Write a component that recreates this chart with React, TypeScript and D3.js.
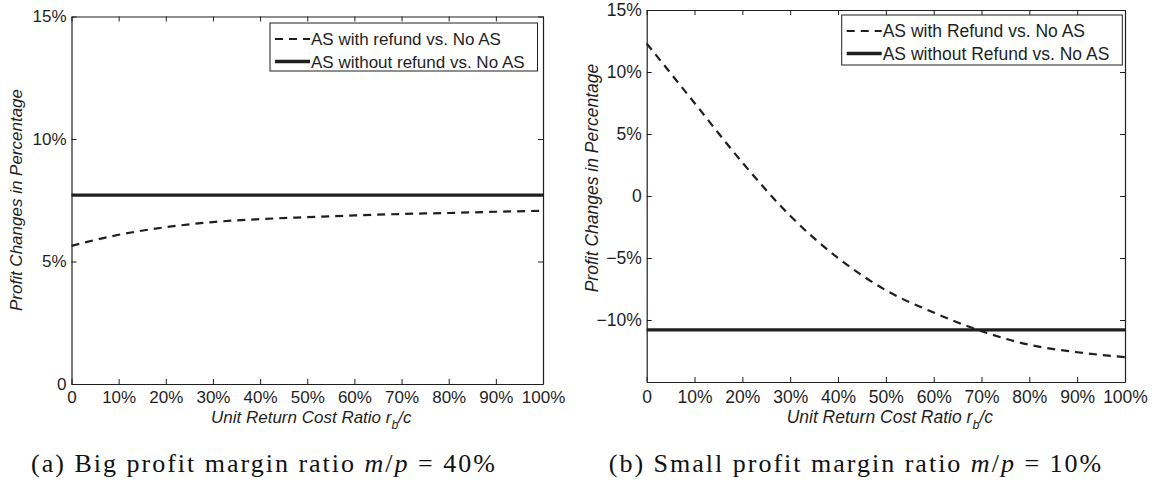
import React, { useRef, useEffect } from "react";
import * as d3 from "d3";

// unit return cost ratio r_b / c on the x axis
const returnCostRatios = [0, 0.1, 0.2, 0.3, 0.4, 0.5, 0.6, 0.7, 0.8, 0.9, 1.0];
const xTickLabels = ["0", "10%", "20%", "30%", "40%", "50%", "60%", "70%", "80%", "90%", "100%"];

// (a) big profit margin, m/p = 40%  (values in %)
const bigWithRefund = [5.64, 6.09, 6.4, 6.61, 6.73, 6.81, 6.88, 6.94, 6.98, 7.03, 7.07];
const bigWithoutRefund = [7.71, 7.71, 7.71, 7.71, 7.71, 7.71, 7.71, 7.71, 7.71, 7.71, 7.71];
const bigYTicks = [0, 5, 10, 15];
const bigYTickLabels = ["0", "5%", "10%", "15%"];
const bigLegend = ["AS with refund vs. No AS", "AS without refund vs. No AS"];

// (b) small profit margin, m/p = 10%
const smallWithRefund = [12.3, 7.5, 2.7, -1.6, -5.0, -7.6, -9.4, -10.9, -12.0, -12.6, -13.0];
const smallWithoutRefund = [-10.8, -10.8, -10.8, -10.8, -10.8, -10.8, -10.8, -10.8, -10.8, -10.8, -10.8];
const smallYTicks = [-10, -5, 0, 5, 10, 15];
const smallYTickLabels = ["\u221210%", "\u22125%", "0", "5%", "10%", "15%"];
const smallLegend = ["AS with Refund vs. No AS", "AS without Refund vs. No AS"];

const ink = "#1f1f1f";
const sans = "'Liberation Sans', Arial, sans-serif";
const serif = "'Liberation Serif', 'Times New Roman', serif";
const dash = "8,6";

const panels = [
  {
    left: 71.5, right: 543, top: 16.5, bottom: 384,
    yDomain: [0, 15], yTicks: bigYTicks, yTickLabels: bigYTickLabels,
    withRefund: bigWithRefund, withoutRefund: bigWithoutRefund,
    legendLabels: bigLegend, legendBox: { x: 270, y: 23, w: 267.5, h: 48 },
    fontSize: 17, xPad: 7, yTitle: { x: 16, y: 200 }, xTitleY: 423,
    caption: { x: 264, tag: "(a) Big profit margin ratio ", value: " = 40%" },
  },
  {
    left: 646.7, right: 1125, top: 10, bottom: 382,
    yDomain: [-15, 15], yTicks: smallYTicks, yTickLabels: smallYTickLabels,
    withRefund: smallWithRefund, withoutRefund: smallWithoutRefund,
    legendLabels: smallLegend, legendBox: { x: 841.7, y: 15, w: 280.6, h: 50 },
    fontSize: 17.5, xPad: 8.5, yTitle: { x: 592, y: 178 }, xTitleY: 423,
    caption: { x: 856, tag: "(b) Small profit margin ratio ", value: " = 10%" },
  },
];

function drawPanel(svg, p) {
  const g = svg.append("g");
  const x = d3.scaleLinear().domain([0, 1]).range([p.left, p.right]);
  const y = d3.scaleLinear().domain(p.yDomain).range([p.bottom, p.top]);

  const styleAxis = (sel) => {
    sel.selectAll("path").attr("stroke", ink).attr("stroke-width", 1.2);
    sel.selectAll("line").attr("stroke", ink).attr("stroke-width", 1);
    sel.selectAll("text").attr("fill", ink).style("font-family", sans).style("font-size", `${p.fontSize}px`);
  };

  g.append("g")
    .attr("transform", `translate(0,${p.bottom})`)
    .call(
      d3.axisBottom(x).tickValues(returnCostRatios)
        .tickFormat((d, i) => xTickLabels[i]).tickSizeInner(-5).tickSizeOuter(0).tickPadding(p.xPad)
    )
    .call(styleAxis);

  g.append("g")
    .attr("transform", `translate(0,${p.top})`)
    .call(d3.axisTop(x).tickValues(returnCostRatios).tickFormat(() => "").tickSizeInner(-5).tickSizeOuter(0))
    .call(styleAxis);

  g.append("g")
    .attr("transform", `translate(${p.left},0)`)
    .call(
      d3.axisLeft(y).tickValues(p.yTicks)
        .tickFormat((d, i) => p.yTickLabels[i]).tickSizeInner(-5).tickSizeOuter(0).tickPadding(5)
    )
    .call(styleAxis);

  g.append("g")
    .attr("transform", `translate(${p.right},0)`)
    .call(d3.axisRight(y).tickValues(p.yTicks).tickFormat(() => "").tickSizeInner(-5).tickSizeOuter(0))
    .call(styleAxis);

  g.selectAll(".domain").attr("fill", "none");

  const line = d3.line()
    .x((d, i) => x(returnCostRatios[i]))
    .y((d) => y(d))
    .curve(d3.curveMonotoneX);

  g.append("path")
    .datum(p.withoutRefund)
    .attr("d", line)
    .attr("fill", "none")
    .attr("stroke", ink)
    .attr("stroke-width", 3.3);

  g.append("path")
    .datum(p.withRefund)
    .attr("d", line)
    .attr("fill", "none")
    .attr("stroke", ink)
    .attr("stroke-width", 2.2)
    .attr("stroke-dasharray", dash);

  // legend
  const lb = p.legendBox;
  const legend = g.append("g");
  legend.append("rect")
    .attr("x", lb.x).attr("y", lb.y).attr("width", lb.w).attr("height", lb.h)
    .attr("fill", "white").attr("stroke", ink).attr("stroke-width", 1);
  p.legendLabels.forEach((label, i) => {
    const ly = lb.y + 16 + i * 22.5;
    legend.append("line")
      .attr("x1", lb.x + 5).attr("x2", lb.x + 40).attr("y1", ly).attr("y2", ly)
      .attr("stroke", ink)
      .attr("stroke-width", i === 0 ? 2.2 : 3.3)
      .attr("stroke-dasharray", i === 0 ? dash : null);
    legend.append("text")
      .attr("x", lb.x + 41).attr("y", ly + 6)
      .attr("fill", ink)
      .style("font-family", sans).style("font-size", `${p.fontSize}px`)
      .text(label);
  });

  // axis titles
  g.append("text")
    .attr("transform", `translate(${p.yTitle.x},${p.yTitle.y}) rotate(-90)`)
    .attr("text-anchor", "middle")
    .attr("dominant-baseline", "central")
    .attr("fill", ink)
    .style("font-family", sans).style("font-style", "italic").style("font-size", `${p.fontSize}px`)
    .text("Profit Changes in Percentage");

  const xt = g.append("text")
    .attr("x", (p.left + p.right) / 2 + 4).attr("y", p.xTitleY)
    .attr("text-anchor", "middle")
    .attr("fill", ink)
    .style("font-family", sans).style("font-style", "italic").style("font-size", `${p.fontSize}px`);
  xt.append("tspan").text("Unit Return Cost Ratio r");
  xt.append("tspan").attr("dy", 6).style("font-size", `${p.fontSize * 0.72}px`).text("b");
  xt.append("tspan").attr("dy", -6).text("/c");

  // caption
  const cap = g.append("text")
    .attr("x", p.caption.x).attr("y", 472)
    .attr("text-anchor", "middle")
    .attr("fill", "#111")
    .style("font-family", serif).style("font-size", "26px").style("letter-spacing", "2px");
  cap.append("tspan").text(p.caption.tag);
  cap.append("tspan").style("font-style", "italic").text("m");
  cap.append("tspan").text("/");
  cap.append("tspan").style("font-style", "italic").text("p");
  cap.append("tspan").text(p.caption.value);
}

export default function App() {
  const ref = useRef(null);

  useEffect(() => {
    const svg = d3.select(ref.current);
    svg.selectAll("*").remove();
    panels.forEach((p) => drawPanel(svg, p));
  }, []);

  return (
    <svg
      ref={ref}
      width={1152}
      height={492}
      style={{ position: "absolute", left: 0, top: 0, background: "white" }}
    />
  );
}
